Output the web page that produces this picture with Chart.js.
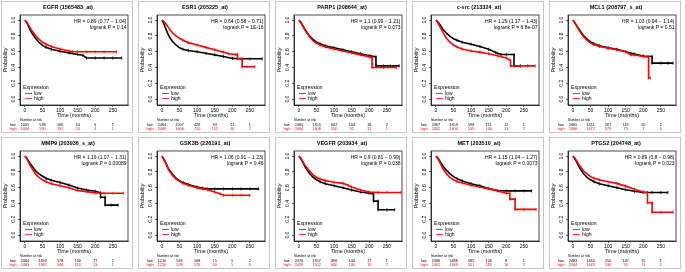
<!DOCTYPE html>
<html>
<head>
<meta charset="utf-8">
<script src="https://cdn.jsdelivr.net/npm/chart.js@4.4.1/dist/chart.umd.min.js"></script>
<style>
  body { margin: 0; background: #fff; width: 685px; height: 272px; position: relative; overflow: hidden; }
  canvas.km { position: absolute; }
</style>
</head>
<body>
<script>
const titles = ["EGFR (1565483_at)", "ESR1 (205225_at)", "PARP1 (208644_at)", "c-src (213324_at)", "MCL1 (208797_s_at)",
                "MMP9 (203936_s_at)", "GSK3B (226191_at)", "VEGFR (203934_at)", "MET (203510_at)", "PTGS2 (204748_at)"];
const hrTexts = ["HR = 0.89 (0.77 \u2212 1.04)", "HR = 0.64 (0.58 \u2212 0.71)", "HR = 1.1 (0.99 \u2212 1.21)", "HR = 1.29 (1.17 \u2212 1.43)", "HR = 1.03 (0.94 \u2212 1.14)",
                 "HR = 1.19 (1.07 \u2212 1.31)", "HR = 1.06 (0.91 \u2212 1.23)", "HR = 0.9 (0.81 \u2212 0.99)", "HR = 1.15 (1.04 \u2212 1.27)", "HR = 0.89 (0.8 \u2212 0.98)"];
const pValues = ["0.14", "1E-16", "0.073", "6.8e-07", "0.51", "0.00089", "0.46", "0.038", "0.0073", "0.023"];

const xTicks = [0, 50, 100, 150, 200, 250];
const yTicks = [0, 0.2, 0.4, 0.6, 0.8, 1];

// survival curves [months, probability], low = black, high = red
const egfrLow  = [[0,1],[5,0.97],[10,0.925],[15,0.875],[20,0.835],[30,0.77],[40,0.72],[50,0.68],[60,0.655],[75,0.63],[100,0.605],[125,0.585],[150,0.565],[165,0.555],[175,0.52],[200,0.52],[225,0.52],[250,0.52],[275,0.52]];
const egfrHigh = [[0,1],[5,0.975],[10,0.94],[15,0.9],[20,0.865],[30,0.805],[40,0.76],[50,0.72],[60,0.695],[75,0.665],[100,0.635],[125,0.61],[135,0.6],[150,0.6],[175,0.6],[200,0.6],[225,0.6],[260,0.6]];
const esr1Low  = [[0,1],[5,0.96],[10,0.9],[15,0.845],[20,0.8],[25,0.76],[30,0.73],[40,0.685],[50,0.65],[60,0.63],[75,0.615],[100,0.6],[125,0.58],[150,0.56],[175,0.54],[200,0.515],[225,0.51],[250,0.51],[285,0.51]];
const esr1High = [[0,1],[5,0.985],[10,0.96],[15,0.93],[20,0.895],[25,0.865],[30,0.84],[40,0.8],[50,0.77],[60,0.745],[75,0.715],[100,0.685],[125,0.655],[150,0.625],[175,0.595],[190,0.575],[210,0.565],[215,0.565],[215,0.51],[228,0.51],[228,0.41],[240,0.41],[264,0.41]];
const parp1Low  = [[0,1],[5,0.975],[10,0.94],[15,0.9],[20,0.865],[30,0.8],[40,0.755],[50,0.72],[60,0.7],[75,0.675],[100,0.65],[125,0.625],[150,0.6],[175,0.575],[200,0.55],[219,0.535],[219,0.42],[240,0.42],[260,0.42],[285,0.42]];
const parp1High = [[0,1],[5,0.97],[10,0.93],[15,0.89],[20,0.855],[30,0.79],[40,0.74],[50,0.705],[60,0.685],[75,0.66],[100,0.635],[125,0.61],[150,0.585],[175,0.56],[200,0.535],[208,0.525],[208,0.4],[240,0.4],[278,0.4]];
const csrcLow  = [[0,1],[5,0.98],[10,0.95],[15,0.92],[20,0.885],[30,0.835],[40,0.795],[50,0.765],[60,0.745],[75,0.72],[100,0.695],[125,0.665],[150,0.63],[170,0.59],[185,0.565],[200,0.565],[222,0.565],[222,0.42],[240,0.42]];
const csrcHigh = [[0,1],[5,0.97],[10,0.93],[15,0.885],[20,0.845],[30,0.77],[40,0.72],[50,0.685],[60,0.66],[75,0.635],[100,0.61],[125,0.595],[150,0.575],[175,0.55],[200,0.52],[212,0.49],[212,0.42],[240,0.42],[260,0.42],[282,0.42]];
const mcl1Low  = [[0,1],[5,0.97],[10,0.935],[15,0.9],[20,0.865],[30,0.805],[40,0.76],[50,0.725],[60,0.7],[75,0.675],[100,0.65],[125,0.63],[150,0.6],[175,0.57],[200,0.545],[225,0.54],[225,0.455],[250,0.455],[270,0.455],[285,0.455]];
const mcl1High = [[0,1],[5,0.965],[10,0.93],[15,0.89],[20,0.855],[30,0.79],[40,0.745],[50,0.71],[60,0.69],[75,0.665],[100,0.645],[125,0.625],[150,0.6],[165,0.56],[175,0.56],[200,0.54],[215,0.53],[215,0.27],[220,0.27]];
const mmp9Low  = [[0,1],[5,0.975],[10,0.94],[15,0.905],[20,0.875],[30,0.815],[40,0.775],[50,0.745],[60,0.72],[75,0.695],[100,0.665],[125,0.635],[150,0.595],[175,0.57],[200,0.555],[215,0.535],[215,0.48],[228,0.48],[228,0.38],[245,0.38],[265,0.38]];
const mmp9High = [[0,1],[5,0.97],[10,0.925],[15,0.88],[20,0.845],[30,0.775],[40,0.73],[50,0.7],[60,0.675],[75,0.65],[100,0.625],[125,0.6],[150,0.565],[175,0.55],[200,0.535],[225,0.53],[250,0.53],[280,0.53]];
const gsk3bLow  = [[0,1],[5,0.965],[10,0.92],[15,0.875],[20,0.83],[30,0.77],[40,0.72],[50,0.69],[60,0.665],[75,0.64],[100,0.61],[115,0.595],[130,0.585],[150,0.585],[175,0.585],[200,0.585],[225,0.585],[250,0.585],[275,0.585]];
const gsk3bHigh = [[0,1],[5,0.96],[10,0.915],[15,0.865],[20,0.82],[30,0.755],[40,0.71],[50,0.68],[60,0.655],[75,0.63],[100,0.6],[115,0.585],[130,0.575],[150,0.545],[165,0.525],[175,0.505],[200,0.505],[225,0.505],[250,0.505]];
const vegfrLow  = [[0,1],[5,0.97],[10,0.93],[15,0.885],[20,0.845],[30,0.78],[40,0.735],[50,0.7],[60,0.675],[75,0.65],[100,0.625],[125,0.6],[150,0.57],[175,0.545],[200,0.53],[212,0.52],[212,0.43],[225,0.43],[225,0.32],[250,0.32],[272,0.32]];
const vegfrHigh = [[0,1],[5,0.975],[10,0.94],[15,0.9],[20,0.87],[30,0.81],[40,0.765],[50,0.73],[60,0.71],[75,0.69],[100,0.67],[125,0.655],[140,0.63],[150,0.61],[175,0.57],[200,0.545],[225,0.54],[250,0.54],[290,0.54]];
const metLow  = [[0,1],[5,0.98],[10,0.945],[15,0.91],[20,0.875],[30,0.82],[40,0.775],[50,0.74],[60,0.715],[75,0.685],[100,0.65],[125,0.625],[150,0.59],[175,0.565],[200,0.56],[225,0.56],[250,0.56],[272,0.56]];
const metHigh = [[0,1],[5,0.97],[10,0.93],[15,0.885],[20,0.84],[30,0.775],[40,0.73],[50,0.7],[60,0.68],[75,0.66],[100,0.63],[125,0.61],[150,0.585],[175,0.56],[200,0.53],[210,0.53],[210,0.455],[225,0.455],[225,0.325],[250,0.325],[285,0.325]];
const ptgs2Low  = [[0,1],[5,0.97],[10,0.93],[15,0.885],[20,0.845],[30,0.78],[40,0.73],[50,0.7],[60,0.675],[75,0.65],[100,0.625],[125,0.6],[150,0.575],[175,0.555],[200,0.54],[225,0.54],[250,0.54],[270,0.54]];
const ptgs2High = [[0,1],[5,0.975],[10,0.945],[15,0.905],[20,0.875],[30,0.815],[40,0.775],[50,0.74],[60,0.72],[75,0.7],[100,0.675],[125,0.655],[150,0.62],[175,0.58],[200,0.545],[212,0.54],[212,0.41],[225,0.41],[225,0.29],[250,0.29],[285,0.29]];

const lowCurves  = [egfrLow, esr1Low, parp1Low, csrcLow, mcl1Low, mmp9Low, gsk3bLow, vegfrLow, metLow, ptgs2Low];
const highCurves = [egfrHigh, esr1High, parp1High, csrcHigh, mcl1High, mmp9High, gsk3bHigh, vegfrHigh, metHigh, ptgs2High];

// number at risk at 0, 50, 100, 150, 200, 250 months
const lowRisk = [
  [1005, 538, 166, 44, 6, 1], [2464, 1207, 426, 94, 11, 1], [2465, 1455, 602, 104, 18, 2], [2467, 1459, 598, 111, 12, 1], [2465, 1411, 567, 119, 20, 2],
  [2464, 1490, 578, 130, 17, 2], [1210, 563, 168, 15, 5, 2], [2470, 1357, 496, 143, 17, 1], [2466, 1488, 585, 126, 8, 1], [2483, 1440, 550, 147, 15, 1]
];
const highRisk = [
  [1004, 590, 192, 24, 4, 1], [2460, 1606, 710, 152, 16, 2], [2464, 1408, 550, 92, 11, 1], [2462, 1404, 539, 100, 13, 2], [2466, 1472, 579, 73, 7, 0],
  [2463, 1367, 548, 113, 13, 1], [1210, 528, 176, 40, 5, 0], [2459, 1502, 640, 100, 19, 2], [2461, 1369, 551, 118, 16, 2], [2444, 1443, 536, 95, 11, 2]
];

const FONT = '"Liberation Sans", Arial, sans-serif';
const RED = '#ff0000';

const kmExtras = {
    id: 'kmExtras',
    afterDraw(chart, args, opts) {
        const ctx = chart.ctx;
        const a = chart.chartArea;
        const xs = chart.scales.x, ys = chart.scales.y;
        const i = opts.index;
        ctx.save();

        // panel frame and plot box
        ctx.strokeStyle = '#c4c4c4';
        ctx.lineWidth = 1;
        ctx.strokeRect(0.5, 0.5, chart.width - 1, chart.height - 1);
        ctx.strokeStyle = '#000';
        ctx.lineWidth = 0.7;
        ctx.strokeRect(a.left, a.top, a.right - a.left, a.bottom - a.top);

        ctx.fillStyle = '#000';
        ctx.textBaseline = 'middle';
        ctx.textAlign = 'center';
        ctx.font = 'bold 5.5px ' + FONT;
        ctx.fillText(titles[i], chart.width / 2 + 1, 6);

        ctx.font = '5px ' + FONT;
        ctx.textAlign = 'right';
        ctx.fillText(hrTexts[i], a.right - 1.5, a.top + 7);
        ctx.fillText('logrank P = ' + pValues[i], a.right - 1.5, a.top + 12.5);

        // legend
        ctx.textAlign = 'left';
        ctx.font = '5.2px ' + FONT;
        ctx.fillText('Expression', a.left + 3, 86.5);
        ctx.font = '5px ' + FONT;
        ctx.lineWidth = 0.8;
        ctx.strokeStyle = '#444';
        ctx.beginPath(); ctx.moveTo(a.left + 5, 92.5); ctx.lineTo(a.left + 12, 92.5); ctx.stroke();
        ctx.strokeStyle = RED;
        ctx.beginPath(); ctx.moveTo(a.left + 5, 97.5); ctx.lineTo(a.left + 12, 97.5); ctx.stroke();
        ctx.fillText('low', a.left + 14, 92.5);
        ctx.fillText('high', a.left + 14, 97.5);

        // y tick labels, rotated like R
        ctx.textAlign = 'center';
        yTicks.forEach(function (v) {
            ctx.save();
            ctx.translate(12.5, ys.getPixelForValue(v));
            ctx.rotate(-Math.PI / 2);
            ctx.fillText(v.toFixed(1), 0, 0);
            ctx.restore();
        });
        ctx.save();
        ctx.translate(5, (a.top + a.bottom) / 2);
        ctx.rotate(-Math.PI / 2);
        ctx.font = '5.3px ' + FONT;
        ctx.fillText('Probability', 0, 0);
        ctx.restore();

        ctx.font = '5.3px ' + FONT;
        ctx.fillText('Time (months)', (a.left + a.right) / 2, 115);

        // number at risk table
        ctx.font = '3.4px ' + FONT;
        ctx.textAlign = 'left';
        ctx.fillText('Number at risk', a.left, 119.5);
        ctx.font = '3.8px ' + FONT;
        ctx.textAlign = 'center';
        ctx.fillText('low', 12, 123.5);
        ctx.fillStyle = RED;
        ctx.fillText('high', 12, 127.5);
        xTicks.forEach(function (t, k) {
            let px = xs.getPixelForValue(t);
            ctx.fillStyle = '#000';
            ctx.fillText(String(lowRisk[i][k]), px, 123.5);
            ctx.fillStyle = RED;
            ctx.fillText(String(highRisk[i][k]), px, 127.5);
        });
        ctx.restore();
    }
};

function toPoints(arr) { return arr.map(p => ({ x: p[0], y: p[1] })); }

// censor ticks only where follow-up thins out
function censorRadius(c) { return c.raw && c.raw.x >= 60 ? 1.6 : 0; }

function makePanel(i) {
    let canvas = document.createElement('canvas');
    canvas.className = 'km';
    canvas.width = 132;
    canvas.height = 132;
    canvas.style.left = (1 + 137 * (i % 5)) + 'px';
    canvas.style.top = (1 + 136 * Math.floor(i / 5)) + 'px';
    document.body.appendChild(canvas);

    let curveConfig = {
        borderWidth: 1.6,
        pointStyle: 'line',
        rotation: 90,
        pointRadius: censorRadius,
        pointHoverRadius: 0,
        pointBorderWidth: 0.8,
        tension: 0,
        fill: false,
    };

    let axisGrid = { drawOnChartArea: false, tickLength: 2, color: '#000', lineWidth: 0.6 };

    new Chart(canvas, {
        type: 'line',
        data: {
            datasets: [
                { ...curveConfig, data: toPoints(lowCurves[i]), borderColor: '#000', pointBorderColor: '#000', order: 2 },
                { ...curveConfig, data: toPoints(highCurves[i]), borderColor: RED, pointBorderColor: RED, order: 1 },
            ]
        },
        options: {
            responsive: false,
            animation: false,
            devicePixelRatio: 1,
            layout: { padding: { top: 14, right: 5, left: 0, bottom: 0 } },
            plugins: { legend: { display: false }, tooltip: { enabled: false }, kmExtras: { index: i } },
            scales: {
                x: {
                    type: 'linear',
                    min: -14, max: 293,
                    afterBuildTicks: s => { s.ticks = xTicks.map(v => ({ value: v })); },
                    afterFit: s => { s.height = 28; },
                    grid: axisGrid,
                    border: { display: true, color: '#000', width: 0.7 },
                    ticks: { font: { size: 5, family: FONT }, color: '#000', padding: 1, maxRotation: 0, autoSkip: false },
                },
                y: {
                    min: -0.075, max: 1.065,
                    afterBuildTicks: s => { s.ticks = yTicks.map(v => ({ value: v })); },
                    afterFit: s => { s.width = 19; },
                    grid: axisGrid,
                    border: { display: true, color: '#000', width: 0.7 },
                    ticks: { display: false },
                }
            }
        },
        plugins: [kmExtras]
    });
}

for (let i = 0; i < 10; i++) { makePanel(i); }
</script>
</body>
</html>
